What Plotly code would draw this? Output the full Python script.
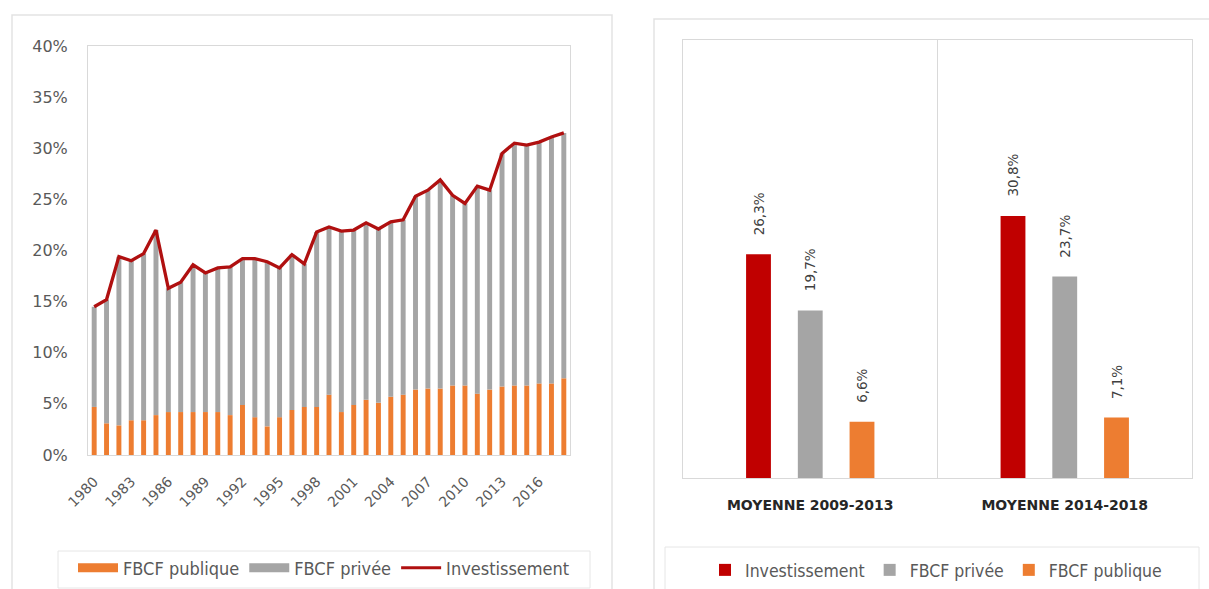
import plotly.graph_objects as go

# ---------------- data ----------------
years = list(range(1980, 2019))
investissement = [14.5, 15.2, 19.4, 19.0, 19.7, 22.0, 16.3, 16.9, 18.6, 17.8,
                  18.3, 18.4, 19.2, 19.2, 18.9, 18.3, 19.6, 18.7, 21.8, 22.3,
                  21.9, 22.0, 22.7, 22.1, 22.8, 23.0, 25.3, 25.9, 26.9, 25.4,
                  24.6, 26.3, 25.9, 29.5, 30.5, 30.3, 30.6, 31.1, 31.5]
fbcf_publique = [4.7, 3.1, 2.9, 3.4, 3.4, 3.9, 4.2, 4.2, 4.2, 4.2,
                 4.2, 3.9, 4.9, 3.7, 2.8, 3.7, 4.4, 4.7, 4.7, 5.9,
                 4.2, 4.9, 5.4, 5.1, 5.7, 5.9, 6.4, 6.5, 6.5, 6.8,
                 6.8, 6.0, 6.4, 6.7, 6.8, 6.8, 7.0, 7.0, 7.5]
fbcf_privee = [9.8, 12.1, 16.5, 15.6, 16.3, 18.1, 12.1, 12.7, 14.4, 13.6,
               14.1, 14.5, 14.3, 15.5, 16.1, 14.6, 15.2, 14.0, 17.1, 16.4,
               17.7, 17.1, 17.3, 17.0, 17.1, 17.1, 18.9, 19.4, 20.4, 18.6,
               17.8, 20.3, 19.5, 22.8, 23.7, 23.5, 23.6, 24.1, 24.0]

periodes = ["MOYENNE 2009-2013", "MOYENNE 2014-2018"]
moy_invest = [26.3, 30.8]
moy_privee = [19.7, 23.7]
moy_publique = [6.6, 7.1]

# ---------------- styles ----------------
RED_LINE = "#B01010"
RED_BAR = "#C00000"
GREY = "#A5A5A5"
ORANGE = "#ED7D31"
TXT = "#595959"
BOX = "#D9D9D9"
NARROW = "Liberation Sans Narrow, DejaVu Sans Condensed, Arial Narrow, sans-serif"
W, H = 1209, 589

def px(x):
    return x / W

def py(y):
    return 1 - y / H

fig = go.Figure()

# Left chart: stacked bars via shared offsetgroup + base
fig.add_trace(go.Bar(x=years, y=fbcf_publique, marker_color=ORANGE, marker_line_width=0,
                     width=0.4, offsetgroup="L", showlegend=False, xaxis="x", yaxis="y"))
fig.add_trace(go.Bar(x=years, y=fbcf_privee, base=fbcf_publique, marker_color=GREY,
                     marker_line_width=0, width=0.4, offsetgroup="L", showlegend=False,
                     xaxis="x", yaxis="y"))
fig.add_trace(go.Scatter(x=years, y=investissement, mode="lines",
                         line=dict(color=RED_LINE, width=3.3), showlegend=False,
                         xaxis="x", yaxis="y"))

# legend entries for left chart
fig.add_trace(go.Scatter(x=[None], y=[None], mode="lines", name="FBCF publique",
                         line=dict(color=ORANGE, width=9), legend="legend"))
fig.add_trace(go.Scatter(x=[None], y=[None], mode="lines", name="FBCF privée",
                         line=dict(color=GREY, width=9), legend="legend"))
fig.add_trace(go.Scatter(x=[None], y=[None], mode="lines", name="Investissement",
                         line=dict(color=RED_LINE, width=3), legend="legend"))

# Right chart
right_series = [("Investissement", moy_invest, RED_BAR),
                ("FBCF privée", moy_privee, GREY),
                ("FBCF publique", moy_publique, ORANGE)]
for i, (name, vals, col) in enumerate(right_series):
    fig.add_trace(go.Bar(x=periodes, y=vals, name=name, marker_color=col,
                         marker_line_width=0, offsetgroup="R%d" % i,
                         xaxis="x2", yaxis="y2", legend="legend2"))

bargap = 0.39
right_dom = [px(683), px(1192)]
cat_px = (1192 - 683) / len(periodes)
step = (1 - bargap) * cat_px / 3

annotations = []
for i, (name, vals, col) in enumerate(right_series):
    for cat, v in zip(periodes, vals):
        annotations.append(dict(
            x=cat, y=v, xref="x2", yref="y2", text=("%.1f" % v).replace(".", ",") + "%",
            textangle=-90, showarrow=False, xshift=(i - 1) * step, yshift=17,
            yanchor="bottom", xanchor="center",
            font=dict(family="DejaVu Sans", size=13.5, color="#404040")))

shapes = [
    # panel borders
    dict(type="rect", xref="paper", yref="paper", x0=px(12), x1=px(612), y0=py(600), y1=py(15),
         line=dict(color="#E3E3E3", width=1.5)),
    dict(type="rect", xref="paper", yref="paper", x0=px(654), x1=px(1216), y0=py(600), y1=py(19),
         line=dict(color="#E3E3E3", width=1.5)),
    # legend boxes
    dict(type="rect", xref="paper", yref="paper", x0=px(58), x1=px(590), y0=py(588), y1=py(551),
         line=dict(color="#E6E6E6", width=1)),
    dict(type="rect", xref="paper", yref="paper", x0=px(665), x1=px(1199), y0=py(592), y1=py(547),
         line=dict(color="#E6E6E6", width=1)),
    # separator in right chart
    dict(type="line", xref="x2", yref="y2 domain", x0=0.5, x1=0.5, y0=0, y1=1,
         line=dict(color=BOX, width=1)),
]

fig.update_layout(
    template="none",
    width=W, height=H, autosize=False,
    margin=dict(l=0, r=0, t=0, b=0, autoexpand=False),
    paper_bgcolor="white", plot_bgcolor="white",
    barmode="group", bargap=bargap, bargroupgap=0.52,
    xaxis=dict(domain=[px(88), px(570)], anchor="y", range=[1979.5, 2018.5], automargin=False,
               tickmode="linear", tick0=1980, dtick=3, tickangle=-45, ticklabelstandoff=12,
               showgrid=False, zeroline=False, showline=True, linecolor=BOX, mirror=True,
               ticks="", tickfont=dict(family="DejaVu Sans", size=14, color=TXT)),
    yaxis=dict(domain=[py(455), py(46)], anchor="x", range=[0, 40], dtick=5, ticksuffix="%",
               automargin=False, ticklabelstandoff=16,
               showgrid=False, zeroline=False, showline=True, linecolor=BOX, mirror=True,
               ticks="", tickfont=dict(family="DejaVu Sans", size=16, color=TXT)),
    xaxis2=dict(domain=right_dom, anchor="y2", showgrid=False, zeroline=False, automargin=False,
                showline=True, linecolor=BOX, mirror=True, ticks="", ticklabelstandoff=14,
                tickfont=dict(family="DejaVu Sans", size=14, color="#262626", weight="bold")),
    yaxis2=dict(domain=[py(478), py(40)], anchor="x2", range=[0, 51.5], showgrid=False,
                automargin=False,
                zeroline=False, showticklabels=False, showline=True, linecolor=BOX, mirror=True),
    legend=dict(orientation="h", xref="container", yref="container",
                x=px(324), xanchor="center", y=py(568), yanchor="middle",
                bgcolor="rgba(0,0,0,0)", borderwidth=0, itemwidth=40,
                font=dict(family=NARROW, size=18, color=TXT), traceorder="normal"),
    legend2=dict(orientation="h", xref="container", yref="container",
                 x=px(936), xanchor="center", y=py(570), yanchor="middle",
                 bgcolor="rgba(0,0,0,0)", borderwidth=0, itemwidth=30,
                 font=dict(family=NARROW, size=17.5, color=TXT), traceorder="normal"),
    shapes=shapes,
    annotations=annotations,
)

fig.write_html("out.html", config={"displayModeBar": False},
               post_script="document.body.style.margin='0px';document.body.style.overflow='hidden';")
